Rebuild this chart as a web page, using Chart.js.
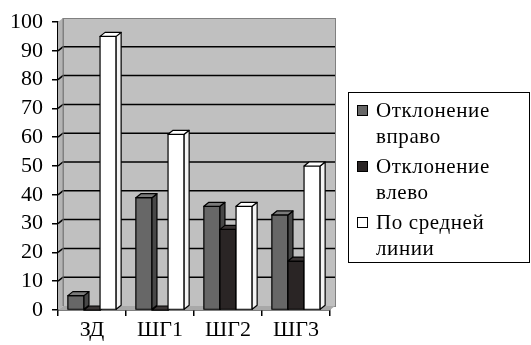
<!DOCTYPE html>
<html>
<head>
<meta charset="utf-8">
<script src="https://cdn.jsdelivr.net/npm/chart.js@4"></script>
<style>
  body { margin: 0; background: #fff; }
  #wrap { position: relative; width: 531px; height: 345px; }
  #legenda {
    position: absolute; left: 348px; top: 92px; width: 182px; height: 171px;
    border: 1.5px solid #000; box-sizing: border-box; overflow: visible;
    font-family: "Liberation Serif", "DejaVu Serif", serif; font-size: 21px; color: #000;
    letter-spacing: 0.6px; padding: 4px 0 0 8px; line-height: 26px;
  }
  .item { display: flex; align-items: flex-start; margin-bottom: 4px; }
  .mark { width: 9px; height: 9px; border: 1.5px solid #000; margin: 8px 8px 0 0; flex: none; }
</style>
</head>
<body>
<div id="wrap">
  <canvas id="grafico" width="531" height="345"></canvas>
  <div id="legenda"></div>
</div>
<script>
// dados
const categorias = ['ЗД', 'ШГ1', 'ШГ2', 'ШГ3'];
const desvioDireita = [5, 39, 36, 33];
const desvioEsquerda = [0, 0, 28, 17];
const linhaMedia = [95, 61, 36, 50];
const nomesSeries = [['Отклонение', 'вправо'], ['Отклонение', 'влево'], ['По средней', 'линии']];

// cores: frente, topo, lateral
const cores = [
  ['#676767', '#7a7a7a', '#474747'],
  ['#2a2525', '#3a3535', '#181414'],
  ['#ffffff', '#ffffff', '#f4f4f4']
];

const DX = 5, DY = 4;

// parede de fundo, chão e linhas de grade em perspectiva
const parede3d = {
  id: 'parede3d',
  beforeDatasetsDraw(chart) {
    const ctx = chart.ctx;
    const { left, right, top, bottom } = chart.chartArea;
    const y = chart.scales.y;
    ctx.save();
    // parede lateral
    ctx.fillStyle = '#b4b4b4';
    ctx.beginPath();
    ctx.moveTo(left, bottom); ctx.lineTo(left, top);
    ctx.lineTo(left + DX, top - DY); ctx.lineTo(left + DX, bottom - DY);
    ctx.closePath(); ctx.fill();
    // parede de fundo
    ctx.fillStyle = '#c0c0c0';
    ctx.fillRect(left + DX, top - DY, right - left, bottom - top);
    ctx.strokeStyle = '#808080'; ctx.lineWidth = 1;
    ctx.strokeRect(left + DX + 0.5, top - DY + 0.5, right - left, bottom - top);
    // chão
    ctx.fillStyle = '#a8a8a8';
    ctx.beginPath();
    ctx.moveTo(left, bottom); ctx.lineTo(left + DX, bottom - DY);
    ctx.lineTo(right + DX, bottom - DY); ctx.lineTo(right, bottom);
    ctx.closePath(); ctx.fill();
    // grade
    ctx.strokeStyle = '#000'; ctx.lineWidth = 1.5;
    for (let v = 10; v <= 90; v += 10) {
      const py = y.getPixelForValue(v);
      ctx.beginPath();
      ctx.moveTo(left, py); ctx.lineTo(left + DX, py - DY);
      ctx.lineTo(right + DX, py - DY);
      ctx.stroke();
    }
    ctx.strokeStyle = '#808080'; ctx.lineWidth = 1;
    ctx.beginPath();
    ctx.moveTo(left + DX, top - DY); ctx.lineTo(left + DX, bottom - DY);
    ctx.stroke();

    // barras em 3D desenhadas por categoria, série a série
    ctx.strokeStyle = '#000'; ctx.lineWidth = 1.2; ctx.lineJoin = 'round';
    const metas = chart.data.datasets.map((d, i) => chart.getDatasetMeta(i));
    categorias.forEach((c, j) => {
      metas.forEach((meta, s) => {
        const bar = meta.data[j];
        const x0 = bar.x - bar.width / 2, x1 = bar.x + bar.width / 2;
        const yt = bar.y, yb = bar.base;
        const [frente, topo, lado] = cores[s];
        // frente
        ctx.fillStyle = frente;
        ctx.fillRect(x0, yt, x1 - x0, yb - yt);
        ctx.strokeRect(x0, yt, x1 - x0, yb - yt);
        // lateral
        ctx.fillStyle = lado;
        ctx.beginPath();
        ctx.moveTo(x1, yb); ctx.lineTo(x1, yt);
        ctx.lineTo(x1 + DX, yt - DY); ctx.lineTo(x1 + DX, yb - DY);
        ctx.closePath(); ctx.fill(); ctx.stroke();
        // topo
        ctx.fillStyle = topo;
        ctx.beginPath();
        ctx.moveTo(x0, yt); ctx.lineTo(x0 + DX, yt - DY);
        ctx.lineTo(x1 + DX, yt - DY); ctx.lineTo(x1, yt);
        ctx.closePath(); ctx.fill(); ctx.stroke();
      });
    });
    ctx.restore();
    return false;
  }
};

function criarGrafico() {
  const ctx = document.getElementById('grafico').getContext('2d');
  const fonte = { family: '"Liberation Serif", "DejaVu Serif", serif', size: 22, lineHeight: 1.0 };
  const series = [desvioDireita, desvioEsquerda, linhaMedia];

  new Chart(ctx, {
    type: 'bar',
    data: {
      labels: categorias,
      datasets: series.map((valores, i) => ({
        label: nomesSeries[i].join(' '),
        data: valores,
        backgroundColor: cores[i][0],
        borderColor: '#000',
        borderWidth: 1
      }))
    },
    options: {
      responsive: false,
      animation: false,
      categoryPercentage: 0.71,
      barPercentage: 1,
      layout: { padding: { left: 1, right: 201, top: 22, bottom: 0 } },
      plugins: { legend: { display: false }, tooltip: { enabled: false } },
      scales: {
        x: {
          grid: { drawOnChartArea: false, drawTicks: true, tickLength: 6, color: '#000', lineWidth: 1.5, offset: true },
          border: { display: true, color: '#000', width: 1.5 },
          ticks: { color: '#000', font: fonte, padding: 3.5 }
        },
        y: {
          min: 0, max: 100,
          grid: { drawOnChartArea: false, drawTicks: true, tickLength: 6, color: '#000', lineWidth: 1.5 },
          border: { display: true, color: '#000', width: 1.5 },
          ticks: { stepSize: 10, autoSkip: false, color: '#000', font: fonte, padding: 9 }
        }
      }
    },
    plugins: [parede3d]
  });

  // legenda em HTML (texto em duas linhas)
  const leg = document.getElementById('legenda');
  leg.innerHTML = nomesSeries.map((n, i) =>
    `<div class="item"><span class="mark" style="background:${cores[i][0]}"></span><span>${n.join('<br>')}</span></div>`
  ).join('');
}

document.addEventListener('DOMContentLoaded', criarGrafico);
</script>
</body>
</html>
